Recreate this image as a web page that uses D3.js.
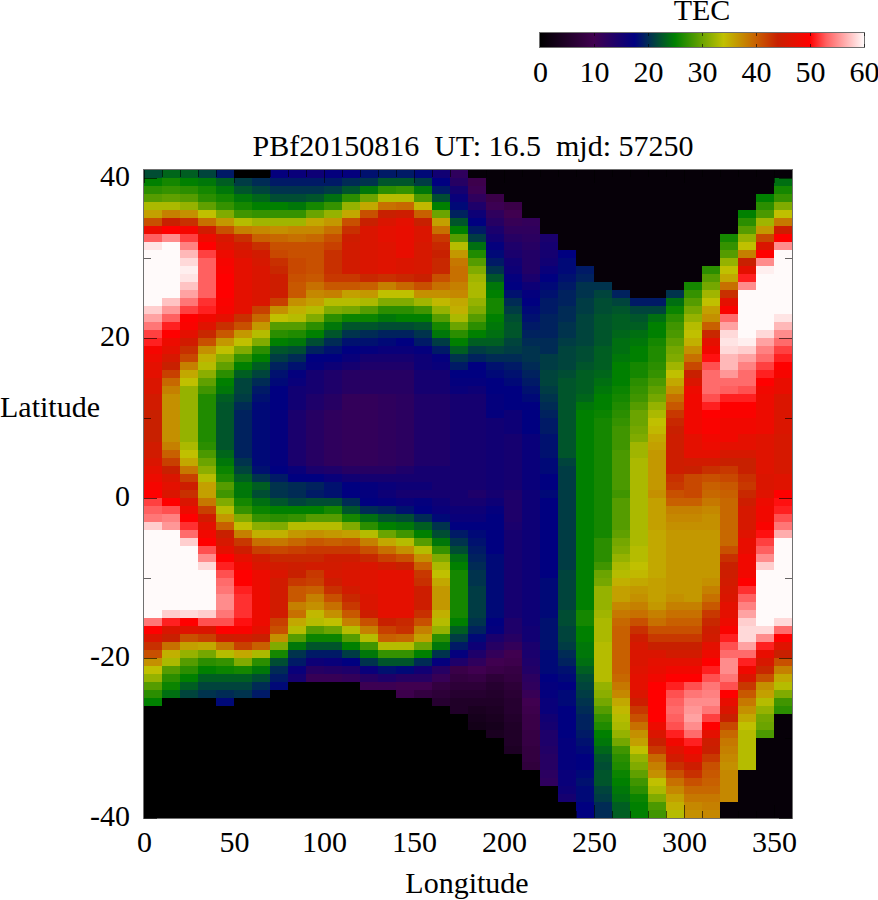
<!DOCTYPE html>
<html><head><meta charset="utf-8">
<script src="https://cdn.jsdelivr.net/npm/d3@7"></script>
<style>
html,body{margin:0;padding:0;background:#fff}
svg{display:block}
text{font-family:"Liberation Serif","Times New Roman",serif;fill:#000}
</style></head><body><div id="chart"></div>
<script>
const titleText = "PBf20150816\u00a0\u00a0UT: 16.5\u00a0\u00a0mjd: 57250";
const xTitle = "Longitude", yTitle = "Latitude", barTitle = "TEC";
const lonMajor = [0,50,100,150,200,250,300,350];
const lonMinor = [10,20,30,40,60,70,80,90,110,120,130,140,160,170,180,190,210,220,230,240,260,270,280,290,310,320,330,340];
const latMajor = [40,20,0,-20,-40];
const latMinor = [30,10,-10,-30];
const barTicks = [0,10,20,30,40,50,60];
const paletteValues = [0,10,17.5,25,34,40,44,50,53,60];
const paletteColors = ["#000000","#400050","#000080","#008000","#c0c000","#c86000","#c82000","#ff0000","#ff6060","#fffafa"];
// TEC per 10-degree longitude column; each column runs from 41N (top) to -40 in 1-degree rows
const tec = [
[22,25,27,29,33,36,41,48,53,59,60,60,60,60,60,60,60,58,56,54,52,51,49,48,47,47,46,46,45,45,44,44,44,44,45,45,46,47,48,49,50,52,53,54,58,60,60,60,60,60,60,60,60,60,60,60,54,50,46,43,41,37,34,32,29,27,25,0,0,0,0,0,0,0,0,0,0,0,0,0,0],
[23.5,26,27.5,29.5,33,38,44,50,55,60,60,60,60,60,60,60,57.5,55.5,53,51,50,48,47,45.5,44,42,39.5,38,37,37,37,37,37,37,38,40,42,44,46,47,46,50,52.5,54.5,55.5,60,60,60,60,60,60,60,60,60,60,58,51,46,44,39,35,33,29,27,25.5,24,0,0,0,0,0,0,0,0,0,0,0,0,0,0,0],
[23,25,27,29,32,37,43,49,52,54.5,57,58.5,59.5,59,57.5,56,54,52,50,49.5,47,45,43,41.5,38,35.5,34,32,32,32,32,32,32,32,33,34,35.5,38.5,42,44.5,43,46,48,50,51.5,53.5,58,60,60,60,60,60,60,60,60,58.5,50,46.5,41,36,32,29,27,25,23,21.5,0,0,0,0,0,0,0,0,0,0,0,0,0,0,0],
[21.5,24.5,26,27,29.5,34,39,45,48,50,52,53,53,53,53,53,51.5,51,48.5,46.5,43.5,41,37,35,33.5,31.5,29.5,28,26.5,26.5,26.5,26.5,26.5,26.5,27,28.5,30,31.5,33.5,36,36,38.5,42,45,47,48.5,50,52.5,55,58.5,60,60,60,60,60,58,52.5,46,42,35.5,30.5,27,25,23,21.5,20.5,0,0,0,0,0,0,0,0,0,0,0,0,0,0,0],
[19,23,24.5,26,27.5,31,36.5,41,45.5,46.5,48,49,49.5,50,50,50,49.5,49,47,43,40.5,36.5,34,31.5,29.5,27,25,24.5,23,22.5,22.5,22.5,22.5,22.5,22.5,23.5,24.5,25.5,26.5,29,28,31,33.5,36.5,40,44,45.5,47,50,51,52.5,53.5,54,55,55,54,52.5,50,44.5,38.5,33.5,27.5,25.5,23,21.5,20,18,0,0,0,0,0,0,0,0,0,0,0,0,0,0],
[0,21,22.5,24.5,26,28,33.5,38,43,45,46,47,47,47,47,47,47,47,43,41,36.5,34,31,27.5,25,23,21.5,21.5,21,20,19.5,19.5,19.5,19.5,19.5,19.5,20.5,21.5,23,24.5,24.5,26,27.5,31,34,38,42.5,44.5,47,48.5,50,50,51,51.5,51.5,51.5,50.5,49.5,45,42,35.5,31,26,23,21.5,20.5,0,0,0,0,0,0,0,0,0,0,0,0,0,0,0],
[0,20,21.5,23.5,25,27.5,32.5,37.5,40,43,45,45.5,46,46,46,46,46,42,39.5,36.5,33.5,31,27,25,23,21.5,20,19,18.5,18,18,18,18,18,18,18,18,18.5,20.5,23,22,24,25.5,27.5,31.5,35,39,42,45,46,48,48,48,48,48,48,48,47,44,40,33,27,24.5,22,20,19,0,0,0,0,0,0,0,0,0,0,0,0,0,0,0],
[17,19,20.5,22,25,27.5,32.5,37,39.5,41,41.5,43,43.5,44.5,44.5,44.5,42,37,34,29,27,25,22.5,21,19.5,18.5,18,17.5,17.5,17.5,17,17,17,17,17,17,17,17.5,19,20.5,20.5,22.5,25,27,31,35,38.5,41.5,43.5,45,46,45,45,45,45,45,42,41,37,31,26,22,20,19,18,0,0,0,0,0,0,0,0,0,0,0,0,0,0,0,0],
[16.5,19,20.5,22,24.5,27.5,32.5,37.5,39,41,41,41.5,41.5,41,40.5,40.5,37,35,33.5,29,26.5,24.5,22,20,18.5,17,16.5,15.5,15.5,15.5,14.5,14.5,14.5,14.5,14.5,14.5,14.5,16.5,17.5,20,20,21.5,25,27.5,33.5,36.5,39.5,42,43.5,44.5,44,42.5,40.5,40.5,38,39,35.5,33.5,29,24.5,20.5,19,16.5,15,0,0,0,0,0,0,0,0,0,0,0,0,0,0,0,0,0],
[16,19,20.5,22.5,26,30,35.5,37.5,39.5,41,41,41,41,40.5,39,37.5,36,33.5,31,27,25,22,19.5,17.5,17,15,15,15,14,14,13,13,13,13,13,13,13,14.5,17.5,19.5,19,22,25,29,33.5,37,40.5,42.5,43.5,45,42.5,42,40,38,37,34.5,33.5,29,25.5,22.5,19,16,13,11,0,0,0,0,0,0,0,0,0,0,0,0,0,0,0,0,0],
[17,19,21,24,27.5,32,36.5,39,41,42,43,43,43,42.5,40.5,38,33.5,31,27,24.5,22.5,20,18.5,17.5,16,14,14,14,13,13,12,12,12,12,12,12,12,14,16.5,18.5,18.5,22,26,29,33.5,36.5,40,42.5,44.5,45,45.5,44.5,43,41,39,37,34,30,25.5,22.5,19,16.5,13.5,11,0,0,0,0,0,0,0,0,0,0,0,0,0,0,0,0,0],
[17,20,22.5,27,32,35.5,41,43,44.5,45,45,45,45,42.5,40.5,36,33.5,30.5,25.5,22.5,20.5,18.5,17.5,16.5,15,13,13,13,11.5,11.5,11.5,11.5,11.5,11.5,11.5,11.5,11.5,13,15.5,17.5,17.5,20,22.5,26,31,36,40.5,42.5,44.5,45.5,46,46,45,43.5,42.5,40.5,38,33.5,29,25,21,17.5,14,11.5,0,0,0,0,0,0,0,0,0,0,0,0,0,0,0,0,0],
[18.5,20.5,24.5,30,35.5,41,44,46,46,46,46,46,46,43.5,40,36.5,33,29,25.5,22.5,20,18.5,17,15,14,13,13,13,11.5,11.5,11.5,11.5,11.5,11.5,11.5,11.5,11.5,13,15,17,17,17.5,20,24,27,33.5,38,41,43.5,46,46.5,46.5,46.5,46,46,44.5,41,38,33.5,28,24.5,20.5,16.5,13,10.5,0,0,0,0,0,0,0,0,0,0,0,0,0,0,0,0],
[19,22.5,27,33.5,39,44,46,47,47,46.5,46.5,46.5,46.5,43,38,34,31,27,24.5,22,19.5,18,16.5,15,14,13,13,13,12,12,12,12,12,12,12,12,12,13,15,16.5,16,17,19.5,22.5,25,30,35.5,39,42,45,47,47,47,47,47,47,44,42,40,33.5,27.5,22.5,18.5,14,10.5,0,0,0,0,0,0,0,0,0,0,0,0,0,0,0,0],
[19,22.5,27.5,33.5,39.5,44.5,47,47.5,47.5,47.5,47.5,46,46,43.5,39.5,34,31,27,25,22,19.5,17.5,16.5,15,14,13,13,13,12.5,12.5,12.5,12.5,12.5,12.5,12.5,12.5,12.5,14,15,16,15,16.5,18.5,22,24.5,28,33.5,37,41,44,47,47,47,47,47,47,43.5,43,39.5,33.5,27.5,22.5,18,13,10,9.5,0,0,0,0,0,0,0,0,0,0,0,0,0,0,0],
[18,21,24.5,28.5,34.5,40,44,46,46,45.5,45.5,45.5,45.5,44,41,37,32.5,28,25,22.5,20.5,19,17,16,16,15,15,15,14,14,14,14,14,14,14,14,14,15,15,16,15,17,17.5,20,23,25,29,33.5,37,40,42.5,43,44.5,44.5,44.5,43,41,38,36,30,25,20,15.5,13,10,8,0,0,0,0,0,0,0,0,0,0,0,0,0,0,0],
[15.5,17.5,19,22,25,30,36,39,42.5,43.5,44,43.5,43.5,41,39,37,34.5,32,29,26,24.5,21,19,17,16.5,15,15,15,14,14,14,14,14,14,14,14,14,15,15,15,15,16,16.5,18,20.5,22,24.5,27.5,31,33,34,35.5,36.5,36.5,36.5,35,33.5,32,27,24.5,20.5,17,13,11,8,7,6,0,0,0,0,0,0,0,0,0,0,0,0,0,0],
[12,13,15,16.5,18,19.5,22.5,25,29,33.5,36.5,38.5,39,39,38,37.5,35.5,35,33,30,27,25,23,20.5,19,17.5,17,16.5,15,15,15,15,15,15,15,15,15,15,15,15,15,15,16,16.5,17.5,19,20.5,22,24,25,26,26,26,26,26,26,25,23,21,19,17,14,9,8,7,6,5,5,0,0,0,0,0,0,0,0,0,0,0,0,0],
[1,9.5,10.5,12,14,16,17.5,19,21,24,26.5,29,31,32.5,33,33,32,31,29,27,25,23,21,19.5,17.5,17.5,17,16,15,15,15,15,15,15,15,15,15,15,15,15,14,15,16,16.5,17.5,18,18.5,19,19.5,20,20.5,20.5,21,21,21,21,20.5,19.5,18,16,14,12,10,8.5,7,6,5,4,3.5,3,0,0,0,0,0,0,0,0,0,0,0],
[1,1,1,9,10.5,12,13,14.5,15.5,17,18,19,20.5,22.5,24.5,25,26,26,25,24.5,24,23,21.5,20,18.5,18,17.5,17.5,17,17,17,15.5,15.5,15.5,15.5,15.5,15.5,15.5,15.5,15.5,15,16,17,17.5,17.5,17.5,17.5,17.5,18,18,18,18,18,18,18,18,17.5,17,14.5,13,11.5,10,9,7,6,5.5,5,4.5,4,3.5,4,0,0,0,0,0,0,0,0,0,0],
[1,1,1,1,9,10,11,12,13,14,14.5,15.5,16,17,17.5,18.5,20,21,22,22.5,22.5,21.5,21,20,19,18.5,18,17.5,17.5,17.5,16,16,16,15,15,15,15,15,15,15,14,14,14,14,14.5,15,15,15,15,15,15,15,15,15,15,15,14,14,13,11.5,10,9.5,8.5,8,7,6.5,6,6,5.5,5,5,5,4.5,0,0,0,0,0,0,0,0],
[1,1,1,1,1,1,11.5,12,12.5,13,13.5,13.5,13.5,14.5,16,17,17.5,18,18.5,19,19.5,20,20.5,20.5,20,19.5,19,18.5,18,17.5,17.5,17.5,17.5,16.5,16.5,16.5,16.5,16.5,16.5,16.5,16,16,16,16,16,16,16,16,16,16,16,16,16,16,16,16,16,15.5,15.5,14.5,14.5,14,13.5,12.5,12,11,10,9.5,9,9,8.5,8.5,8,8,7.5,0,0,0,0,0,0],
[1,1,1,1,1,1,1,1,14.5,15,15,15.5,16.5,17.5,18,18.5,19,19,19.5,19.5,19.5,20,20,21,21,21.5,21.5,21,20.5,20,19.5,19,19,18.5,18.5,18.5,18,18,17.5,17.5,18,17.5,17.5,17.5,17.5,17.5,17.5,17.5,17.5,17.5,17.5,18,18,18,18,18,18.5,18.5,18.5,18.5,18,18,18,17.5,17,17,16.5,16.5,15.5,15,14,14,13.5,13,13,12.5,12,0,0,0,0],
[1,1,1,1,1,1,1,1,1,1,17.5,18,18,18.5,19,19.5,19.5,20,20,20.5,20.5,21,21.5,21.5,21.5,22,22.5,22.5,22.5,22.5,22.5,22.5,22.5,22.5,22.5,22.5,21.5,21,21,21,21,21,21,21,21,21,21,21,21,21,21.5,21.5,21.5,21.5,21.5,22,22,21.5,21.5,21,20,19.5,18.5,18,17.5,18,18,17.5,17.5,17.5,17.5,17,17,17,17,16.5,16.5,16,15,0,0],
[1,1,1,1,1,1,1,1,1,1,1,1,19,19.5,20.5,20.5,21,21,21.5,21.5,21.5,21.5,22,22,22.5,23,23,23,23.5,24.5,25,25,25,25,25,25,25,25,25,25,25,25,25,25,25,25,25,25,25,25,25,25,25,25,25,26,26,25,25,24.5,24.5,24,23,22,21.5,21,20.5,20,19.5,19.5,19,18.5,18,17.5,17.5,18,18.5,18,18,17.5,17.5],
[1,1,1,1,1,1,1,1,1,1,1,1,1,1,20.5,21.5,22,22,22.5,22.5,22.5,22.5,23,23,23,23.5,24,24.5,25,25,25.5,26,26,26,26,26,26,26,26,26,26,26,26,26,26,26,27,27,27,28,30,30.5,32,32,32,32.5,33,33,33,33.5,33.5,33.5,33.5,33.5,32,31.5,30.5,29,27.5,26.5,25,24.5,23.5,22.5,22,22.5,22.5,21.5,21,20,20],
[1,1,1,1,1,1,1,1,1,1,1,1,1,1,1,19.5,21.5,22.5,23,23,23.5,24,24,24.5,25,25,25,25.5,26,26.5,27,27.5,28,28,28,28.5,28.5,28.5,28.5,28.5,28,29,29,29,29,29.5,30.5,31,32,33,33.5,35,36,36,37.5,38.5,39.5,40,40,40,40,40,40,39.5,38.5,37.5,35.5,34.5,33.5,33,32,30.5,28,27,26.5,25.5,25,24.5,24,23,23],
[1,1,1,1,1,1,1,1,1,1,1,1,1,1,1,1,19,21.5,22.5,23,24,24.5,25,25,26,26,27,27.5,28,29,30,30,30.5,31,32.5,32.5,33,33,33,33,33,33,33,33,33,33,33,33.5,33.5,34,34.5,35.5,36.5,37,38,39,41,43,44.5,45.5,46,46,46.5,47,47,46,44.5,42.5,41,39,37,36,34,32,31,29.5,28,27,25.5,25,25],
[1,1,1,1,1,1,1,1,1,1,1,1,1,1,1,1,19,21.5,24,25,25,26,26.5,26.5,27,27.5,28.5,29.5,30.5,32,33,34,34.5,35.5,36,36.5,36.5,36.5,36.5,36.5,37,36,36,36,36,35.5,35.5,35.5,35.5,35.5,35.5,36,36,36,36.5,38,39,41,42.5,44,46,47,47.5,48.5,50,50,50,50,50,48,46,44,42.5,39.5,38,37,34,33,31,28.5,28],
[1,1,1,1,1,1,1,1,1,1,1,1,1,1,1,20.5,24,25.5,27,28,28.5,29.5,30.5,31,32.5,34,35.5,37,39,40.5,42.5,43.5,44,44.5,44.5,44.5,44.5,44.5,43,42.5,41,40,38,37.5,37,36.5,36.5,36.5,36.5,36.5,36.5,36.5,36.5,37,38,39,40,41,42.5,44,45,47,48.5,50,51,52.5,53,53.5,53,52.5,51,48.5,46.5,45,43,41,39,37.5,36,35,33.5],
[1,1,1,1,1,1,1,1,1,1,1,1,1,1,26,27.5,29,30.5,32,33.5,34,35,37,39,41.5,44,46,48,48.5,48.5,48.5,48.5,48.5,47,47,47,45,44,41.5,41.5,41.5,40,38,37.5,37,36.5,36.5,36.5,36.5,36.5,36.5,36.5,36.5,36.5,38,39,40,41,42.5,44,45,47,48.5,50,52.5,54,55,55.5,56,55,53.5,51,48.5,47,44.5,43,41,39.5,38.5,37.5,37],
[1,1,1,1,1,1,1,1,1,1,1,1,27,29,30.5,32.5,34,36,37,40,43.5,47,48.5,50.5,52.5,53.5,53.5,53.5,52.5,51,50,49.5,49.5,48.5,48,47,45,43,41,40,39.5,38.5,37.5,37,37,36.5,36.5,36.5,36.5,36.5,36.5,37,38,39,40.5,42.5,43.5,44.5,45,47,48,50,51,52.5,54,54.5,55,54,52,50,47,44.5,44,42.5,41,40.5,40,39.5,38.5,38,37.5],
[1,1,1,1,1,1,1,1,26,27.5,29,32,34,35.5,39,43,47,49.5,53.5,56,58.5,59,58.5,57,57,55.5,53.5,53,51,50,49.5,48.5,48.5,48.5,47,45.5,44,42.5,41.5,40.5,40,39.5,39.5,39.5,39.5,39.5,39.5,41,43,44,44.5,45,45.5,46,47,47,48,49.5,51,52.5,53.5,55,55,54,52.5,50,47.5,46,44,41.5,39.5,38.5,38,37.5,37,37.5,37.5,37.5,37.5,1,1],
[1,1,1,1,1,25,27,29,32,34,38,44,47,51,55,60,60,60,60,60,60,59.5,58,56,54.5,53.5,53.5,52.5,51,50,49.5,48.5,48.5,47,47,45.5,44,44,43,42.5,43.5,44.5,45.5,45.5,45.5,46.5,47.5,47.5,48.5,48.5,48.5,50,51.5,53,54.5,56,58,58.5,58.5,56,53.5,51,48.5,46,42.5,40.5,38.5,37,35.5,34,33.5,33.5,33.5,33.5,33.5,1,1,1,1,1,1],
[1,1,1,25,27,28.5,32.5,36.5,41.5,46,50,55,59.5,60,60,60,60,60,60,60,58.5,56,54.5,53.5,52,51,50,48.5,48,48,48,48,48,46.5,46.5,46.5,46.5,46.5,46,46,46.5,48,48.5,48.5,49.5,50.5,52,53,55,58,60,60,60,60,60,60,60,58.5,55,51,47.5,45.5,43.5,41,37,36,33.5,32,30.5,30,28.5,1,1,1,1,1,1,1,1,1,1],
[1,24,26,27.5,31,34,38.5,44.5,50,55,60,60,60,60,60,60,60,60,59,57,55,53.5,52,51,50,49,47.5,47.5,46,46,46,46,46,45.5,45.5,45.5,45.5,45.5,46.5,46.5,50,50.5,51,52.5,54,56.5,60,60,60,60,60,60,60,60,60,60,58.5,53.5,50,46.5,44,41,38,35.5,33.5,31,28,27,1,1,1,1,1,1,1,1,1,1,1,1,1]
];

const svg = d3.select("#chart").append("svg").attr("width",878).attr("height",900);
const x = d3.scaleLinear().domain([0,360]).range([144,792]);
const y = d3.scaleLinear().domain([-40,41]).range([818,170]);
const color = d3.scaleLinear().domain(paletteValues).range(paletteColors).interpolate(d3.interpolateRgb).clamp(true);
const plain = d => String(d);

// heat map cells
const cols = svg.append("g").selectAll("g").data(tec).join("g");
cols.selectAll("rect")
  .data((col,j)=>col.map((v,i)=>({lon:j*10,lat:41-i,v})))
  .join("rect")
  .attr("x",d=>x(d.lon)).attr("y",d=>y(d.lat))
  .attr("width",d=>x(d.lon+10)-x(d.lon)).attr("height",d=>y(d.lat-1)-y(d.lat))
  .attr("fill",d=>color(d.v)).attr("shape-rendering","crispEdges");

// frame
svg.append("rect").attr("x",143.5).attr("y",169.5).attr("width",649).attr("height",649)
  .attr("fill","none").attr("stroke","#707070").attr("stroke-width",1);

function ticks(axisFn, scale, values, size, transform){
  const a = axisFn(scale).tickValues(values).tickSizeInner(size).tickSizeOuter(0).tickFormat("");
  const g = svg.append("g").attr("transform",transform).call(a);
  g.select(".domain").remove();
  g.selectAll("line").attr("stroke","#000").attr("stroke-opacity",0.6);
  return g;
}
const fs = 30;
// x ticks
ticks(d3.axisBottom,x,lonMajor,-13,"translate(0,818)");
ticks(d3.axisBottom,x,lonMinor,-7,"translate(0,818)");
ticks(d3.axisTop,x,lonMajor,-13,"translate(0,170)");
ticks(d3.axisTop,x,lonMinor,-7,"translate(0,170)");
// y ticks
ticks(d3.axisLeft,y,latMajor,-13,"translate(144,0)");
ticks(d3.axisLeft,y,latMinor,-7,"translate(144,0)");
ticks(d3.axisRight,y,latMajor,-13,"translate(792,0)");
ticks(d3.axisRight,y,latMinor,-7,"translate(792,0)");
// labels
const xLab = svg.append("g").attr("transform","translate(0,818)").call(d3.axisBottom(x).tickValues(lonMajor).tickSize(0).tickPadding(0).tickFormat(plain));
xLab.select(".domain").remove();
xLab.selectAll("text").attr("y",34).attr("dy",0).style("font-size",fs+"px").attr("font-family",null);
const yLab = svg.append("g").attr("transform","translate(130,0)").call(d3.axisLeft(y).tickValues(latMajor).tickSize(0).tickPadding(0).tickFormat(plain));
yLab.select(".domain").remove();
yLab.selectAll("text").attr("dy","7.5px").style("font-size",fs+"px").attr("font-family",null);

svg.append("text").attr("x",473).attr("y",156).attr("text-anchor","middle").style("font-size",fs+"px").text(titleText);
svg.append("text").attr("x",467).attr("y",893).attr("text-anchor","middle").style("font-size",fs+"px").text(xTitle);
svg.append("text").attr("x",50).attr("y",417).attr("text-anchor","middle").style("font-size",fs+"px").text(yTitle);

// colour bar
const barX = d3.scaleLinear().domain([0,60]).range([540,864]);
const defs = svg.append("defs");
const grad = defs.append("linearGradient").attr("id","tecbar").attr("x1","0%").attr("x2","100%").attr("y1","0%").attr("y2","0%");
grad.selectAll("stop").data(paletteValues).join("stop")
  .attr("offset",d=>(d/60*100)+"%").attr("stop-color",(d,i)=>paletteColors[i]);
svg.append("rect").attr("x",barX(0)).attr("y",33).attr("width",barX(60)-barX(0)).attr("height",14).attr("fill","url(#tecbar)");
svg.append("rect").attr("x",539.5).attr("y",32.5).attr("width",325).attr("height",15).attr("fill","none").attr("stroke","#707070");
[[d3.axisBottom,47,-3],[d3.axisTop,33,-3]].forEach(([fn,yy,s])=>{
  const g = svg.append("g").attr("transform",`translate(0,${yy})`).call(fn(barX).tickValues(barTicks).tickSizeInner(s).tickSizeOuter(0).tickFormat(""));
  g.select(".domain").remove();
  g.selectAll("line").attr("stroke","#000").attr("stroke-opacity",0.6);
});
const bLab = svg.append("g").attr("transform","translate(0,47)").call(d3.axisBottom(barX).tickValues(barTicks).tickSize(0).tickPadding(0).tickFormat(plain));
bLab.select(".domain").remove();
bLab.selectAll("text").attr("y",35).attr("dy",0).style("font-size",fs+"px").attr("font-family",null);
svg.append("text").attr("x",702).attr("y",20).attr("text-anchor","middle").style("font-size",fs+"px").text(barTitle);
</script></body></html>
